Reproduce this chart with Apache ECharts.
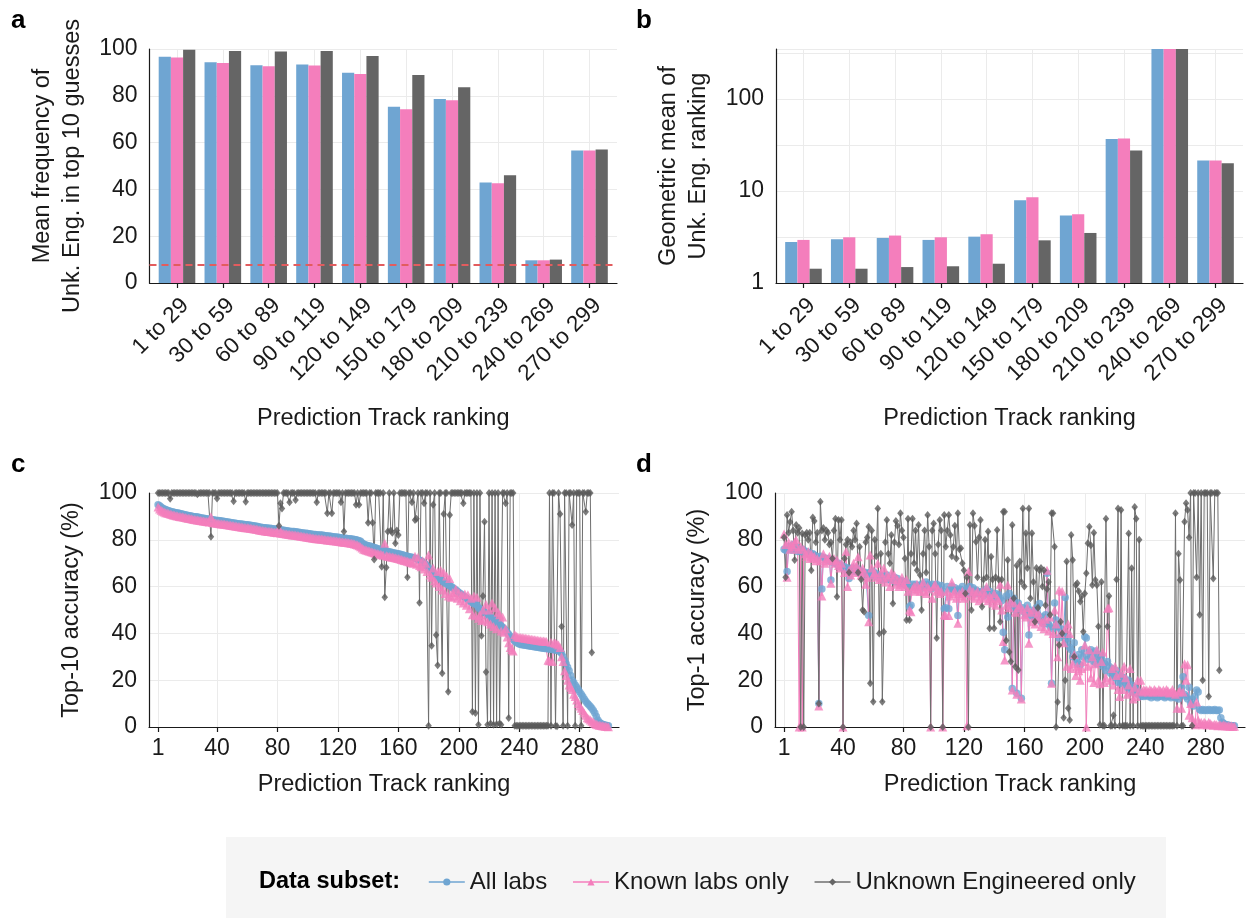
<!DOCTYPE html>
<html><head><meta charset="utf-8">
<script src="https://cdn.jsdelivr.net/npm/echarts@6/dist/echarts.min.js"></script>
<style>html,body{margin:0;padding:0;background:#fff}#c{width:1247px;height:918px}</style>
</head><body><div id="c"></div>
<script>
// ---------- data ----------
const binLabels = ['1 to 29','30 to 59','60 to 89','90 to 119','120 to 149','150 to 179','180 to 209','210 to 239','240 to 269','270 to 299'];
const seriesNames = ['All labs','Known labs only','Unknown Engineered only'];

// panel a: mean frequency of Unk. Eng. in top 10 guesses
const aAll   = [96.7, 94.3, 93.1, 93.4, 89.9, 75.3, 78.6, 42.9, 9.7, 56.6];
const aKnown = [96.4, 94.0, 92.6, 92.9, 89.3, 74.3, 78.1, 42.6, 9.7, 56.6];
const aUnk   = [99.7, 99.1, 98.9, 99.1, 97.0, 88.9, 83.7, 46.1, 10.0, 57.1];
const aChance = 7.6;

// panel b: geometric mean of Unk. Eng. ranking
const bAll   = [2.79, 2.99, 3.09, 2.94, 3.19, 7.95, 5.41, 36.7, 350, 21.5];
const bKnown = [2.94, 3.14, 3.28, 3.14, 3.39, 8.57, 5.59, 37.3, 350, 21.5];
const bUnk   = [1.43, 1.43, 1.49, 1.52, 1.62, 2.91, 3.50, 27.6, 350, 20.1];

// panel c: top-10 accuracy by rank (rank 1..)
const cAll = [
95.0,94.5,94.0,93.5,93.2,92.9,92.6,92.4,92.2,92.0,
91.9,91.7,91.6,91.4,91.3,91.1,91.0,90.8,90.7,90.5,
90.4,90.3,90.2,90.0,89.9,89.8,89.7,89.6,89.4,89.3,
89.2,89.1,89.0,88.9,88.8,88.7,88.6,88.5,88.4,88.3,
88.2,88.1,88.0,87.9,87.8,87.7,87.6,87.5,87.4,87.3,
87.2,87.1,87.0,86.9,86.8,86.7,86.6,86.5,86.4,86.4,
86.3,86.2,86.1,86.0,85.9,85.8,85.7,85.5,85.4,85.3,
85.2,85.1,85.0,84.9,84.9,84.8,84.7,84.6,84.5,84.5,
84.4,84.3,84.2,84.1,84.0,83.9,83.8,83.7,83.6,83.6,
83.5,83.4,83.3,83.2,83.1,83.0,82.9,82.8,82.8,82.7,
82.6,82.5,82.4,82.3,82.3,82.2,82.1,82.0,82.0,81.9,
81.8,81.7,81.6,81.6,81.5,81.4,81.3,81.2,81.2,81.1,
81.0,80.9,80.8,80.7,80.7,80.6,80.5,80.4,80.3,80.2,
80.1,80.0,79.8,79.6,79.4,78.6,78.2,77.9,77.7,77.5,
77.3,77.1,76.9,76.7,76.5,76.3,76.1,75.9,75.7,75.5,
75.4,75.2,75.0,74.9,74.7,74.6,74.4,74.3,74.1,74.0,
73.8,73.7,73.5,73.3,73.2,73.0,72.8,72.7,72.5,72.3,
72.1,71.9,71.6,71.3,71.0,70.5,70.0,69.4,68.7,68.0,
67.2,66.5,65.8,65.1,64.5,64.0,63.5,63.0,62.5,62.0,
61.6,61.2,60.8,60.4,60.0,59.5,59.0,58.5,58.0,57.5,
57.0,56.5,56.0,55.5,55.0,54.5,54.0,53.5,53.0,52.8,
52.6,52.0,51.0,50.5,50.0,49.5,49.0,48.5,48.0,47.5,
47.0,46.5,46.0,45.5,45.0,44.4,43.8,43.2,42.6,42.0,
41.2,40.4,39.6,38.8,38.0,37.4,36.8,36.2,35.8,35.5,
35.3,35.2,35.0,34.9,34.8,34.7,34.6,34.5,34.4,34.3,
34.2,34.1,34.0,33.9,33.8,33.7,33.6,33.5,33.4,33.3,
33.2,33.1,33.0,32.9,32.8,32.6,32.2,31.5,30.0,28.5,
27.0,25.5,24.0,22.0,20.0,19.0,18.0,17.0,16.0,15.0,
14.0,13.0,12.0,11.0,10.2,9.5,8.8,8.0,7.0,6.0,
4.5,3.0,2.0,1.5,1.2,1.0,0.8,0.6,0.5];
const cKnown = [
94.0,93.2,92.6,92.2,91.9,91.6,91.4,91.2,91.0,90.8,
90.6,90.5,90.3,90.2,90.0,89.9,89.8,89.6,89.5,89.3,
89.2,89.1,89.0,88.8,88.7,88.6,88.5,88.4,88.2,88.1,
88.0,87.9,87.8,87.7,87.6,89.8,87.4,87.3,87.2,87.1,
87.0,86.9,86.8,86.7,86.6,86.5,86.4,86.3,86.2,86.1,
86.0,85.9,85.8,85.7,85.6,85.5,85.4,85.3,85.2,85.1,
85.0,84.9,84.8,84.7,84.6,84.5,84.4,84.2,84.1,84.0,
83.9,83.8,83.7,83.6,83.5,83.4,83.3,83.2,83.1,83.0,
85.0,82.9,82.8,82.7,82.6,82.5,82.4,82.3,82.2,82.1,
82.0,81.9,81.8,81.7,81.6,81.5,81.4,81.3,81.2,81.1,
81.0,80.9,80.8,80.7,80.6,80.5,80.4,80.3,80.3,80.2,
80.1,80.0,79.9,79.9,79.8,79.7,79.6,79.6,79.5,79.4,
79.3,79.2,79.1,79.0,78.9,78.8,78.7,78.6,78.5,78.4,
78.2,78.0,77.8,77.5,77.0,76.5,76.0,75.7,75.5,75.3,
75.1,74.9,74.7,74.5,74.3,74.1,73.9,73.8,73.6,73.4,
78.5,73.2,73.0,72.9,72.7,72.6,72.4,72.3,72.1,72.0,
71.8,71.6,71.4,71.2,71.0,70.8,70.6,70.4,70.2,70.0,
73.0,69.6,72.5,69.0,68.5,71.0,67.5,70.0,66.5,73.5,
65.0,64.0,68.0,62.5,61.5,66.5,60.0,67.0,58.5,66.0,
57.0,64.5,56.0,63.5,55.5,57.5,56.0,59.0,55.0,57.5,
54.0,56.5,53.0,56.8,52.0,56.5,50.5,55.0,48.0,56.0,
47.5,55.5,46.5,48.0,45.5,50.0,46.0,52.5,45.0,50.0,
44.0,53.0,43.0,51.0,42.0,49.0,48.0,41.0,47.0,40.5,
42.0,38.5,36.0,34.0,33.0,32.5,39.5,38.8,38.5,38.3,
38.2,38.1,38.0,37.9,37.8,37.7,37.6,37.5,37.4,37.3,
37.2,37.1,37.0,36.9,36.8,36.7,36.6,36.5,28.5,28.3,
36.2,28.0,36.0,35.8,35.5,35.0,34.0,30.0,28.0,24.0,
22.0,20.0,18.0,17.0,16.0,14.0,13.0,11.5,10.0,9.0,
8.0,7.0,6.0,5.0,4.0,3.5,3.0,2.5,2.0,1.5,
1.2,1.0,0.8,0.6,0.5,0.4,0.3,0.2,0.1];
const cUnk = [
100,100,100,100,100,100,100,100,97.5,100,
100,100,100,100,100,100,100,100,100,100,
100,100,100,100,100,100,99.5,100,100,100,
100,100,100,100,100,81.3,100,100,100,97.6,
100,100,100,100,100,100,100,100,100,100,
96.5,100,100,100,100,100,100,100,96.3,100,
100,100,100,100,100,100,100,100,100,100,
100,100,100,100,100,100,100,100,100,100,
86.0,95.6,93.4,100,100,100,100,96.0,100,100,
100,97.0,100,100,100,100,100,100,100,100,
100,100,100,100,100,96.0,100,100,100,100,
100,100,91.3,100,100,91.3,100,100,100,100,
100,96.0,100,83.5,100,100,100,100,100,100,
100,95.0,100,95.0,100,100,100,100,100,87.3,
100,100,87.3,71.6,100,100,100,100,68.5,100,
55.4,68.2,83.5,100,84.0,83.0,100,78.5,84.0,82.0,
100,100,100,100,100,64.0,100,100,96.0,100,
88.5,89.0,100,53.1,100,100,95.6,100,100,0.5,
100,34.7,95.0,100,39.3,26.4,100,100,23.0,91.0,
100,100,15.1,90.6,100,100,100,100,100,100,
100,100,95.6,100,100,100,100,100,6.5,100,
6.0,100,1.0,100,39.0,56.0,87.7,23.5,1.0,100,
1.5,100,1.0,100,1.2,100,1.5,1.0,100,100,
95.6,100,3.8,100,100,100,0.5,0.5,0.5,0.5,
0.5,0.5,0.5,0.5,0.5,0.5,0.5,0.5,0.5,0.5,
0.5,0.5,0.5,0.5,0.5,0.5,0.5,0.5,0.5,100,
0.5,100,100,0.5,0.3,100,91.0,43.0,0.5,100,
100,0.5,100,100,86.3,100,0.5,100,100,100,
0.5,100,100,92.0,100,100,100,31.8];

// panel d: top-1 accuracy by rank
const dAll = [
76,75.5,66.4,77,76,75.5,78,76,77,75,
76,75,76,75.5,74.5,75,74,74.5,73.5,74,
73.5,73,72,10,73,59,72.5,72,71.5,72,
71,62.8,70.5,71,70,69.5,70,68.5,69,68,
68.5,67,68,63.5,67.5,68,66.5,67,68,66,
67,66,66.5,65,66,65.5,47.6,66,65,66.5,
64.5,65.5,64,65,63.5,64.5,63,64,65,63,
63.5,62.5,63,64,62,63.5,62,61.5,62.5,61,
62,60.5,61.5,51.4,52,61,60,61,59.5,60.5,
60,61,59.5,60,62,61,60.5,59,61,60,
59.5,61,60,59,60.5,58,50.5,51,60,50.5,
59,60,58.5,59.5,58,47.6,59,58.5,60,57.5,
58,59,57,60,58,59.5,57,58.5,58,57,
57.5,58,56,57.5,59,56.5,58,57,55.5,56,
57,55,56.5,55,54,40.5,33,56,47,57,
52,16.5,55,50,14.4,53,50.5,12.3,51,49,
48,52,39.3,50,47.5,49,46,51,48,52.8,
45,47,44,48,65.7,44,43,18.7,42,53,
45.7,43,38,42,40,39,55.3,36,38,34,
33,30,36,29,27,31,26.5,33,30,38.6,
38,29,32,33,30,28,32.5,27,31,29,
30,26,27,24,28,26,23,25,22,21,
24,19,22,18.6,20,21,18,17,20,16,
18,15,17,16,14,15,13,14,13,13.5,
14,13,13.5,12.5,13.5,13,14,12.5,13,14,
13,13.5,12.5,13,14,13,12.5,13.5,13,12.5,
13,12,13.5,17,21.5,14,13,12,17,10,
12,9,13,15.8,15,7.5,7,7.5,7,7.3,
7,7.5,7,7.3,7,7.5,7,7,7.3,4,
2,1.5,1,1,0.8,0.6,0.5,0.5,0.5];
const dKnown = [
82.5,78,64,79,76,78,77,79,80,76,
0,77,0,76,74,73,75,72,74,72.5,
73,71,72,9,71,56,74,70,72,71,
73,61.4,71,72,70,71.5,69,68,70,0,
66,75,60,67,65,68,70,66,69,72.8,
67,65,68,66,61,64,45,73.5,68,65,
66,64,70,63,66,64,68,62,65,64,
60,66,63,65,61,63,60,62,64,61,
60,63,58,50,49.3,59,60,58,61,59,
58,60,62,58,57,60,59,0,55,60,
61,58,59,57,58,0,48,47.6,58,47.6,
56,62,57,58,55,44.3,57,56,58,55,
57,0.5,66.4,59,56,58,55,57,58,54,
56,58,55,57,60,54,56,55,53,57,
52,55,54,61,50,36.5,28.6,52,60.7,51,
54,15.8,53,49,14,51,52,12,50,48,
47,51,35.8,49,45,50,44,47,49,46,
43,45,42,46,67,41,47,18.7,40,50,
44,30,58.5,40,58,36,42,26,44,40,
25,27,31,22,26,24,20,25,28,35,
0,26,33,21,30,19,27,33,20,18.5,
28,32,19,21,50.7,51,20,25,18,26,
22,16,13,23,16,26,21,14,18,25,
15,12,17,13,20,15.5,20,15,16,15.5,
15.8,15,16,15.5,15,16,15.5,15,16,15.5,
15,15.8,15,16,15.5,14.5,15,16,15,14,
8,15,15.5,8,15,27,20,26.6,5,10,
4,2,1,10.7,3,1.5,2,1,2,1.5,
1,2,1.5,1,0.8,1.2,1,0.5,1,0.8,
0.5,1,0.5,0.4,0.5,0.3,0.5,0.2,0.3];
const dUnk = [
81,64,90.6,83,87.6,92,84,71.4,86.3,83,
85,0,82.7,0,82,83,80,83,67,89.5,
88,79,83,10,96.3,84,85,80,84,83,
78,79,72,84,89,55.7,88.5,80,88.5,0,
72,78,80,66,79,77,84,80,87,66,
77,63,50,49.3,79,81,85.6,18.7,84,10.8,
80,73,93.4,40,74,10.8,40.7,79,88.5,74,
70,82,52.8,79,88,86,78,91.3,84,81,
72,45.7,89,45.7,74,89,70,84,67,86.3,
65,50,74,84,66,90.6,77,0,84,87,
74,38,78,88.5,84,0,90.6,77,84,90.6,
82,73,77,86,72,91.3,76,76.4,70,67,
57,64,0,86.3,50,91.3,86,79.2,64,81,
88.5,51.4,63,80,64,83.5,42.2,72.8,63,42.2,
64,84.2,63,45,63,92,92,37,71.4,32,
28,86.3,55,25.8,69,24.4,70.7,62,93.4,60,
82.8,68,93.4,55,82.8,62,45,68,51,67,
68,60,67,52,59,62,48,91.3,91.3,77,
0,10.7,35,45,40,4,20,70.7,8,3,
82,71.4,30,60.7,61.4,58,53.6,56,40.7,57,
65.7,78.5,85.6,77.7,60.7,83,62.8,60.7,43,1,
62,0.5,0.5,89,43,56,0.5,0.5,5,0.5,
63,93.4,0.5,92.7,0.5,0.5,0.5,0.5,82.7,0.5,
67.8,0.5,94,89,0.5,80,0.5,0.5,0.5,0.5,
0.5,0.5,0.5,0.5,0.5,0.5,0.5,0.5,0.5,0.5,
0.5,0.5,0.5,0.5,0.5,0.5,0.5,0.5,0.5,91.3,
0.5,74,62.8,0.5,0.5,87.7,95.6,92.7,81,100,
0.5,100,100,64,100,48,100,20,100,100,
100,13,100,100,63.5,100,100,100,24.3];

const rankTicks = [1, 40, 80, 120, 160, 200, 240, 280];
const logTicks = [1, 10, 100];

// ---------- style ----------
const FONT = "'Liberation Sans', Arial, Helvetica, sans-serif";
const COLORS = ['#6FA5D2', '#F47EBC', '#656565'];
const SYMBOLS = ['circle', 'triangle', 'diamond'];
const SYMSIZE = [7.5, 9, 7];
const TXT = '#1a1a1a';
const GRIDC = '#EBEBEB';

const binIdx = binLabels.map((_, i) => i);
const byBin = arr => arr.map((v, i) => [i, v]);
const byRank = arr => arr.map((v, i) => [i + 1, v]);

const nameStyle = {fontSize: 23.5, color: TXT, fontFamily: FONT, lineHeight: 30};
const labelStyle = {fontSize: 23, color: TXT, fontFamily: FONT};
const rotLabelStyle = {fontSize: 22.5, color: TXT, fontFamily: FONT};
const axisLineStyle = {show: true, onZero: false, lineStyle: {color: '#1a1a1a', width: 1.2}};

function binXAxis(gi) {
  return {
    type: 'value', gridIndex: gi, min: -0.6, max: 9.6,
    axisLine: axisLineStyle,
    axisTick: {show: true, customValues: binIdx, length: 5, lineStyle: {color: '#1a1a1a', width: 1.2}},
    axisLabel: Object.assign({customValues: binIdx, rotate: 45, margin: 11, align: 'right', verticalAlign: 'top',
      formatter: v => binLabels[Math.round(v)] || ''}, rotLabelStyle),
    splitLine: {show: true, lineStyle: {color: GRIDC, width: 1}},
    name: 'Prediction Track ranking', nameLocation: 'middle', nameGap: 121, nameTextStyle: nameStyle
  };
}
function rankXAxis(gi) {
  return {
    type: 'value', gridIndex: gi, min: -5, max: 306,
    axisLine: axisLineStyle,
    axisTick: {show: true, customValues: rankTicks, length: 5, lineStyle: {color: '#1a1a1a', width: 1.2}},
    axisLabel: Object.assign({customValues: rankTicks, margin: 10}, labelStyle),
    splitLine: {show: true, lineStyle: {color: GRIDC, width: 1}},
    name: 'Prediction Track ranking', nameLocation: 'middle', nameGap: 43, nameTextStyle: nameStyle
  };
}
function pctYAxis(gi, name) {
  return {
    type: 'value', gridIndex: gi, min: 0, max: 100, interval: 20,
    axisLine: axisLineStyle, axisTick: {show: false},
    axisLabel: Object.assign({margin: 12}, labelStyle),
    splitLine: {show: true, lineStyle: {color: GRIDC, width: 1}},
    name: name, nameLocation: 'middle', nameGap: 62, nameTextStyle: nameStyle
  };
}

const LOGMAX = 350;
const series = [];

// panels c & d: lines first, then points (ggplot order)
[[cAll, cKnown, cUnk, 2], [dAll, dKnown, dUnk, 3]].forEach(([s0, s1, s2, ax]) => {
  [s0, s1, s2].forEach((arr, k) => {
    series.push({
      type: 'line', name: seriesNames[k], xAxisIndex: ax, yAxisIndex: ax,
      data: byRank(arr), showSymbol: false, symbol: SYMBOLS[k], symbolSize: SYMSIZE[k],
      lineStyle: {color: k === 2 ? '#6e6e6e' : COLORS[k], width: 1},
      itemStyle: {color: COLORS[k]}, z: 2, clip: false, animation: false, silent: true
    });
  });
  [s0, s1, s2].forEach((arr, k) => {
    series.push({
      type: 'scatter', name: seriesNames[k] + ' points', xAxisIndex: ax, yAxisIndex: ax,
      data: byRank(arr), symbol: SYMBOLS[k], symbolSize: k === 2 ? [6.5, 8] : SYMSIZE[k],
      itemStyle: {color: k === 2 ? '#5a5a5a' : COLORS[k]}, z: 3, clip: false, animation: false, silent: true
    });
  });
});

// panels a & b: bars
[[aAll, aKnown, aUnk, 0, 0], [bAll, bKnown, bUnk, 1, 1]].forEach(([s0, s1, s2, xi, yi]) => {
  [s0, s1, s2].forEach((arr, k) => {
    const s = {
      type: 'bar', name: 'bar-' + xi + '-' + k, xAxisIndex: xi, yAxisIndex: yi,
      data: byBin(arr), barWidth: 12.2, barGap: '0%',
      itemStyle: {color: COLORS[k]}, z: 2, animation: false, silent: true
    };
    if (xi === 0 && k === 0) {
      s.markLine = {
        silent: true, symbol: ['none', 'none'], label: {show: false}, animation: false,
        lineStyle: {color: '#E25C5E', type: [7, 5], width: 1.8, opacity: 1},
        data: [{yAxis: aChance}]
      };
    }
    series.push(s);
  });
});

const option = {
  backgroundColor: '#ffffff',
  animation: false,
  textStyle: {fontFamily: FONT},
  grid: [
    {left: 149.5, top: 49, width: 467.5, height: 234, outerBoundsMode: 'none'},
    {left: 776, top: 49, width: 467, height: 234, outerBoundsMode: 'none'},
    {left: 149, top: 493, width: 470, height: 234, outerBoundsMode: 'none'},
    {left: 775, top: 493, width: 470, height: 234, outerBoundsMode: 'none'}
  ],
  xAxis: [binXAxis(0), binXAxis(1), rankXAxis(2), rankXAxis(3)],
  yAxis: [
    pctYAxis(0, 'Mean frequency of\nUnk. Eng. in top 10 guesses'),
    {
      type: 'log', logBase: 10, gridIndex: 1, min: 1, max: LOGMAX,
      axisLine: axisLineStyle, axisTick: {show: false},
      axisLabel: Object.assign({customValues: logTicks, margin: 12}, labelStyle),
      splitLine: {show: false}, minorSplitLine: {show: false},
      name: 'Geometric mean of\nUnk. Eng. ranking', nameLocation: 'middle', nameGap: 62, nameTextStyle: nameStyle
    },
    pctYAxis(2, 'Top-10 accuracy (%)'),
    pctYAxis(3, 'Top-1 accuracy (%)'),
    {
      // half-decade grid lines for the log panel
      type: 'value', gridIndex: 1, min: 0, max: Math.log10(LOGMAX), interval: 0.5, position: 'left',
      axisLine: {show: false}, axisTick: {show: false}, axisLabel: {show: false},
      splitLine: {show: true, lineStyle: {color: GRIDC, width: 1}}
    }
  ],
  legend: {
    data: seriesNames, left: 423, top: 865, orient: 'horizontal',
    itemWidth: 36, itemHeight: 9, itemGap: 25,
    textStyle: {fontSize: 24, color: TXT, fontFamily: FONT},
    lineStyle: {width: 1.6}, selectedMode: false
  },
  graphic: [
    {type: 'rect', z: -10, shape: {x: 226, y: 837, width: 940, height: 81}, style: {fill: '#F5F5F5'}},
    {type: 'text', x: 259, y: 882, style: {text: 'Data subset:', font: 'bold 23.5px ' + FONT, fill: '#000', textVerticalAlign: 'middle', verticalAlign: 'middle'}},
    {type: 'text', x: 11, y: 21, style: {text: 'a', font: 'bold 26px ' + FONT, fill: '#000', textVerticalAlign: 'middle', verticalAlign: 'middle'}},
    {type: 'text', x: 636, y: 21, style: {text: 'b', font: 'bold 26px ' + FONT, fill: '#000', textVerticalAlign: 'middle', verticalAlign: 'middle'}},
    {type: 'text', x: 11, y: 465, style: {text: 'c', font: 'bold 26px ' + FONT, fill: '#000', textVerticalAlign: 'middle', verticalAlign: 'middle'}},
    {type: 'text', x: 636, y: 465, style: {text: 'd', font: 'bold 26px ' + FONT, fill: '#000', textVerticalAlign: 'middle', verticalAlign: 'middle'}}
  ],
  series: series
};

const chart = echarts.init(document.getElementById('c'), null, {renderer: 'canvas', width: 1247, height: 918});
chart.setOption(option);
</script>
</body></html>
